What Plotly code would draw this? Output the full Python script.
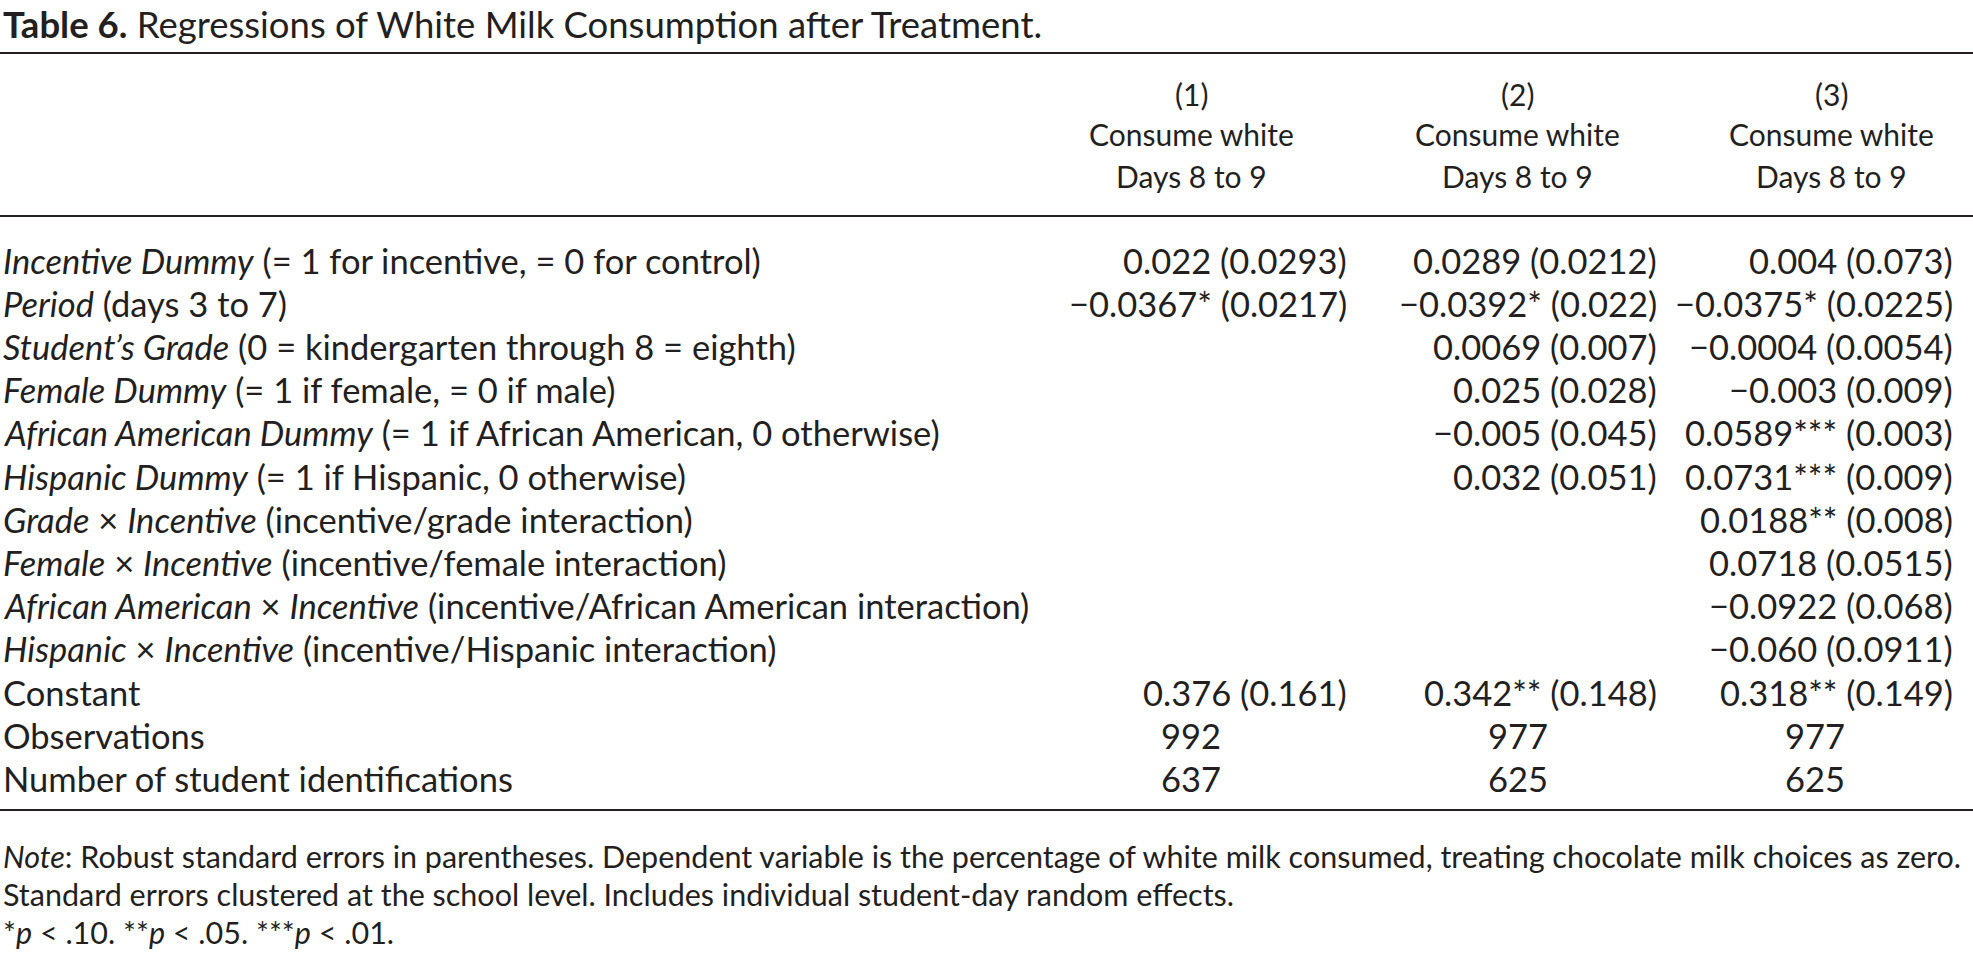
import plotly.graph_objects as go

W, H = 1973, 954
FONT = "Lato"
INK = "#231f20"

TITLE_BOLD = "Table 6."
TITLE_TEXT = "Regressions of White Milk Consumption after Treatment."

MODEL_NUMBERS = ["(1)", "(2)", "(3)"]
DEP_VARS = ["Consume white", "Consume white", "Consume white"]
DAY_WINDOWS = ["Days 8 to 9", "Days 8 to 9", "Days 8 to 9"]

ROW_LABELS = [
    "<i>Incentive Dummy</i> (= 1 for incentive, = 0 for control)",
    "<i>Period</i> (days 3 to 7)",
    "<i>Student’s Grade</i> (0 = kindergarten through 8 = eighth)",
    "<i>Female Dummy</i> (= 1 if female, = 0 if male)",
    "<i>African American Dummy</i> (= 1 if African American, 0 otherwise)",
    "<i>Hispanic Dummy</i> (= 1 if Hispanic, 0 otherwise)",
    "<i>Grade</i> × <i>Incentive</i> (incentive/grade interaction)",
    "<i>Female</i> × <i>Incentive</i> (incentive/female interaction)",
    "<i>African American</i> × <i>Incentive</i> (incentive/African American interaction)",
    "<i>Hispanic</i> × <i>Incentive</i> (incentive/Hispanic interaction)",
    "Constant",
]
MODEL_1 = [
    "0.022 (0.0293)", "−0.0367* (0.0217)", "", "", "", "", "", "", "", "",
    "0.376 (0.161)",
]
MODEL_2 = [
    "0.0289 (0.0212)", "−0.0392* (0.022)", "0.0069 (0.007)", "0.025 (0.028)",
    "−0.005 (0.045)", "0.032 (0.051)", "", "", "", "",
    "0.342** (0.148)",
]
MODEL_3 = [
    "0.004 (0.073)", "−0.0375* (0.0225)", "−0.0004 (0.0054)", "−0.003 (0.009)",
    "0.0589*** (0.003)", "0.0731*** (0.009)", "0.0188** (0.008)",
    "0.0718 (0.0515)", "−0.0922 (0.068)", "−0.060 (0.0911)",
    "0.318** (0.149)",
]

COUNT_LABELS = ["Observations", "Number of student identifications"]
OBSERVATIONS = [992, 977, 977]
STUDENT_IDS = [637, 625, 625]

NOTES = [
    "<i>Note</i>: Robust standard errors in parentheses. Dependent variable is the percentage of white milk consumed, treating chocolate milk choices as zero.",
    "Standard errors clustered at the school level. Includes individual student-day random effects.",
    "*<i>p</i> < .10. **<i>p</i> < .05. ***<i>p</i> < .01.",
]

# layout in pixels of the page
TITLE_SIZE = 36.5
HEADER_SIZE = 30
BODY_SIZE = 34.5
NOTE_SIZE = 30.5
LABEL_X = 1
VALUE_RIGHT = [1349, 1659, 1955]
HEADER_CENTER = [1191, 1517, 1831]
COUNT_CENTER = [1191, 1518, 1815]
HEADER_Y = [94, 134, 176]
ROW_Y0, ROW_STEP = 260, 43.2
RULES = [(53, 2.2), (216, 2.2), (810, 2.2)]
NOTE_Y = [856, 894, 932]


def _text(fig, x, y, text, anchor="left", size=BODY_SIZE, vanchor="middle"):
    fig.add_annotation(
        x=x, y=y, xref="x", yref="y", text=text, showarrow=False,
        xanchor=anchor, yanchor=vanchor,
        font={"family": FONT, "size": size, "color": INK},
    )


fig = go.Figure()

_text(fig, LABEL_X, 0, f"<b>{TITLE_BOLD}</b> {TITLE_TEXT}", size=TITLE_SIZE, vanchor="top")

for j in range(3):
    for y, row in zip(HEADER_Y, (MODEL_NUMBERS, DEP_VARS, DAY_WINDOWS)):
        _text(fig, HEADER_CENTER[j], y, row[j], anchor="center", size=HEADER_SIZE)

models = [MODEL_1, MODEL_2, MODEL_3]
for i, label in enumerate(ROW_LABELS):
    y = ROW_Y0 + i * ROW_STEP
    _text(fig, LABEL_X, y, label)
    for j, col in enumerate(models):
        if col[i]:
            _text(fig, VALUE_RIGHT[j], y, col[i], anchor="right")

for k, (label, counts) in enumerate(zip(COUNT_LABELS, (OBSERVATIONS, STUDENT_IDS))):
    y = ROW_Y0 + (len(ROW_LABELS) + k) * ROW_STEP
    _text(fig, LABEL_X, y, label)
    for j, n in enumerate(counts):
        _text(fig, COUNT_CENTER[j], y, str(n), anchor="center")

for y, note in zip(NOTE_Y, NOTES):
    _text(fig, LABEL_X, y, note, size=NOTE_SIZE)

for y, w in RULES:
    fig.add_shape(
        type="line", xref="x", yref="y", x0=0, x1=W, y0=y, y1=y,
        line={"color": INK, "width": w},
    )

fig.update_layout(
    width=W, height=H,
    margin={"l": 0, "r": 0, "t": 0, "b": 0},
    paper_bgcolor="#FFFFFF", plot_bgcolor="#FFFFFF",
    showlegend=False,
)
fig.update_xaxes(range=[0, W], visible=False, fixedrange=True)
fig.update_yaxes(range=[H, 0], visible=False, fixedrange=True)

# drop the browser's default page margin so the figure starts at the window corner
fig.write_html(
    "out.html",
    config={"displayModeBar": False},
    post_script="document.body.style.margin = '0';",
)
